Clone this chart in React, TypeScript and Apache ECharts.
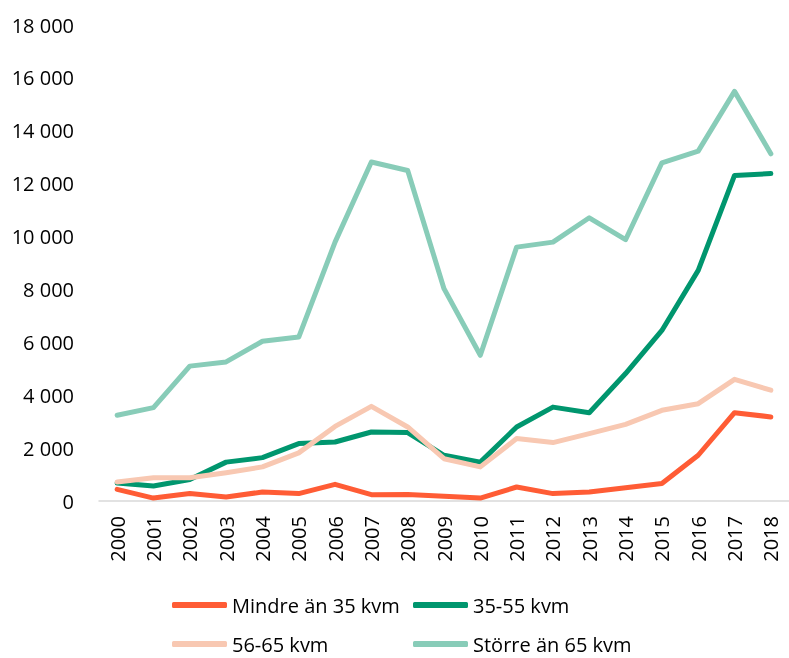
import React, { useEffect, useRef } from "react";
import * as echarts from "echarts";

const years = ["2000","2001","2002","2003","2004","2005","2006","2007","2008","2009","2010","2011","2012","2013","2014","2015","2016","2017","2018"];
const mindre = [440, 110, 280, 150, 340, 280, 630, 240, 250, 180, 110, 530, 280, 340, 500, 660, 1730, 3340, 3180];
const mellan = [680, 570, 810, 1470, 1640, 2170, 2230, 2610, 2590, 1730, 1470, 2800, 3550, 3340, 4820, 6450, 8720, 12310, 12380];
const medel = [720, 880, 880, 1070, 1290, 1820, 2820, 3580, 2800, 1600, 1290, 2360, 2210, 2550, 2900, 3430, 3680, 4600, 4190];
const storre = [3240, 3530, 5100, 5260, 6040, 6200, 9790, 12820, 12500, 8030, 5510, 9600, 9790, 10710, 9880, 12790, 13230, 15490, 13130];
const names = ["Mindre än 35 kvm", "35-55 kvm", "56-65 kvm", "Större än 65 kvm"];
const colors = ["#FF5C35", "#00966E", "#F8C8B2", "#88CCB8"];

const FONT = "'Open Sans', sans-serif";

export default function App() {
  const ref = useRef<HTMLDivElement>(null);
  useEffect(() => {
    if (!ref.current) return;
    const chart = echarts.init(ref.current, undefined, { renderer: "svg" });
    const seriesData = [mindre, mellan, medel, storre];
    const legendPos = [
      { left: 172, top: 595 },
      { left: 413, top: 595 },
      { left: 172, top: 634 },
      { left: 413, top: 634 },
    ];
    chart.setOption({
      animation: false,
      grid: { left: 99, top: 25, width: 695, height: 476, containLabel: false },
      xAxis: {
        type: "category",
        data: years,
        boundaryGap: true,
        axisTick: { show: false },
        axisLine: { lineStyle: { color: "#d9d9d9", width: 1.5 } },
        axisLabel: { rotate: 90, fontSize: 20, color: "#000", fontFamily: FONT, margin: 15, interval: 0 },
      },
      yAxis: {
        type: "value",
        min: 0,
        max: 18000,
        interval: 2000,
        splitLine: { show: false },
        axisLine: { show: false },
        axisTick: { show: false },
        axisLabel: {
          fontSize: 20,
          color: "#000",
          fontFamily: FONT,
          margin: 25,
          formatter: (v: number) => String(v).replace(/\B(?=(\d{3})+(?!\d))/g, " "),
        },
      },
      legend: names.map((n, i) => ({
        data: [n],
        left: legendPos[i].left,
        top: legendPos[i].top,
        icon: "roundRect",
        itemWidth: 55,
        itemHeight: 6,
        padding: 0,
        textStyle: { fontSize: 20, lineHeight: 20, color: "#000", fontFamily: FONT, padding: [0, 0, 0, 0] },
      })),
      series: names.map((n, i) => ({
        name: n,
        type: "line",
        data: seriesData[i],
        symbol: "none",
        showSymbol: false,
        color: colors[i],
        lineStyle: { width: 5, color: colors[i], cap: "round", join: "round" },
        itemStyle: { color: colors[i] },
        z: 2 + i,
      })),
    });
    return () => chart.dispose();
  }, []);
  return <div ref={ref} style={{ position: "fixed", left: 0, top: 0, width: 789, height: 658 }} />;
}
